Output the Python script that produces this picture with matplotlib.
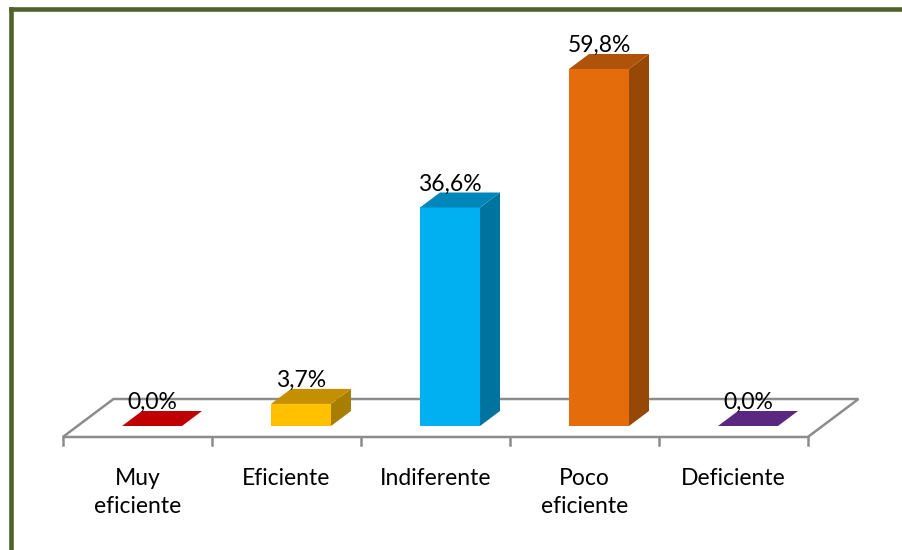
import matplotlib
matplotlib.use("Agg")
import matplotlib.pyplot as plt
from matplotlib.patches import Polygon
from matplotlib.lines import Line2D

plt.rcParams['font.family'] = ['Lato', 'DejaVu Sans']

# datos de la encuesta
categorias = ["Muy\neficiente", "Eficiente", "Indiferente", "Poco\neficiente", "Deficiente"]
porcentajes = [0.0, 3.7, 36.6, 59.8, 0.0]
color_frente = ["#C00000", "#FFC000", "#00B0F0", "#E46C0A", "#5A2781"]
color_lado = ["#8A0000", "#A87E00", "#00739E", "#974706", "#3E1A59"]
color_tapa = ["#C00000", "#C49000", "#0086B8", "#B0530A", "#5A2781"]

W, H = 902, 550
PX_CAT = 149.0      # pixeles por categoria
PX_PCT = 5.97       # pixeles por punto porcentual
X0, Y0 = 152, 124   # centro de la primera barra y el cero (desde abajo)

fig = plt.figure(figsize=(W / 100, H / 100), dpi=100)
ax = fig.add_axes([0, 0, 1, 1])
ax.set_xlim(-X0 / PX_CAT, (W - X0) / PX_CAT)
ax.set_ylim(-Y0 / PX_PCT, (H - Y0) / PX_PCT)
ax.axis('off')


def prof(d):
    # desplazamiento oblicuo para una profundidad d (en pixeles)
    return d * 4 / 3 / PX_CAT, d / PX_PCT


n = len(categorias)
ancho = 60 / PX_CAT
fondo = 15          # profundidad de las barras
piso_ini, piso_fin = -11, 27

# piso
fx0, fy0 = prof(piso_ini)
fx1, fy1 = prof(piso_fin)
izq, der = -0.5, n - 0.5
piso = [(izq + fx0, fy0), (der + fx0, fy0), (der + fx1, fy1), (izq + fx1, fy1)]
ax.add_patch(Polygon(piso, closed=True, facecolor='white', edgecolor='#8C8C8C',
                     lw=1.8, zorder=1, joinstyle='miter'))
for k in range(n + 1):
    xt = izq + k + fx0
    ax.plot([xt, xt], [fy0, fy0 - 8 / PX_PCT], color='#8C8C8C', lw=1.8, zorder=1)

# barras 3d
bx, by = prof(fondo)
for i, v in enumerate(porcentajes):
    a, b = i - ancho / 2, i + ancho / 2
    tapa = [(a, v), (b, v), (b + bx, v + by), (a + bx, v + by)]
    if v > 0:
        lado = [(b, 0), (b + bx, by), (b + bx, v + by), (b, v)]
        ax.add_patch(Polygon(lado, closed=True, facecolor=color_lado[i], lw=0, zorder=2))
        ax.add_patch(Polygon([(a, 0), (b, 0), (b, v), (a, v)], closed=True,
                             facecolor=color_frente[i], lw=0, zorder=3))
    ax.add_patch(Polygon(tapa, closed=True, facecolor=color_tapa[i], lw=0, zorder=3))
    ax.annotate(f"{v:.1f}%".replace('.', ','), (i, v), xytext=(0, 12.3),
                textcoords='offset points', ha='center', va='baseline',
                fontsize=16.5, color='black', zorder=4)
    ax.annotate(categorias[i], (i + fx0, fy0), xytext=(0, -22),
                textcoords='offset points', ha='center', va='top',
                fontsize=16.5, color='black', linespacing=1.45)

# marco verde
verde = '#4F6228'
fig.add_artist(Line2D([10.5 / W, 10.5 / W], [-0.05, 1 - 8.5 / H], color=verde,
                      lw=3.3, solid_capstyle='projecting'))
fig.add_artist(Line2D([10.5 / W, 1.05], [1 - 8.5 / H, 1 - 8.5 / H], color=verde,
                      lw=3.3, solid_capstyle='projecting'))

fig.savefig("out.png", dpi=100)
